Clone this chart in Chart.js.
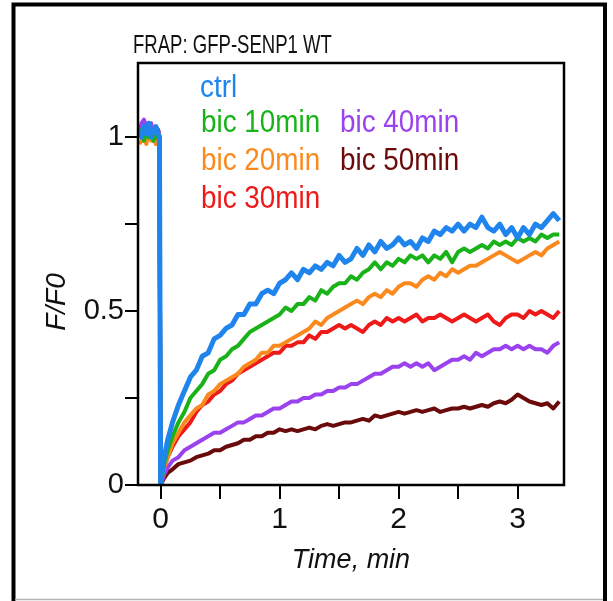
<!DOCTYPE html>
<html>
<head>
<meta charset="utf-8">
<title>FRAP: GFP-SENP1 WT</title>
<script src="https://cdn.jsdelivr.net/npm/chart.js@4.4.1/dist/chart.umd.min.js"></script>
<style>
  html, body { margin: 0; padding: 0; background: #fff; }
  #wrap { width: 613px; height: 601px; }
</style>
</head>
<body>
<div id="wrap"><canvas id="frap" width="613" height="601"></canvas></div>
<script>
// time after bleach, minutes
var timeMin = [
  -0.18, -0.16, -0.14, -0.12, -0.10, -0.08, -0.06, -0.04, -0.02, -0.01,
  0, 0.03, 0.06,
  0.10, 0.15, 0.20, 0.25, 0.30, 0.35, 0.40, 0.45, 0.50, 0.55,
  0.60, 0.65, 0.70, 0.75, 0.80, 0.85, 0.90, 0.95, 1.00, 1.05,
  1.10, 1.15, 1.20, 1.25, 1.30, 1.35, 1.40, 1.45, 1.50, 1.55,
  1.60, 1.65, 1.70, 1.75, 1.80, 1.85, 1.90, 1.95, 2.00, 2.05,
  2.10, 2.15, 2.20, 2.25, 2.30, 2.35, 2.40, 2.45, 2.50, 2.55,
  2.60, 2.65, 2.70, 2.75, 2.80, 2.85, 2.90, 2.95, 3.00, 3.05,
  3.10, 3.15, 3.20, 3.25, 3.30, 3.35
];

// F/F0 per condition
var ctrl = [
  1.02, 1.00, 1.03, 1.01, 1.04, 1.00, 1.02, 1.03, 1.01, 1.00,
  0, 0.08, 0.13,
  0.18, 0.23, 0.27, 0.31, 0.33, 0.37, 0.38, 0.42, 0.43, 0.45,
  0.46, 0.49, 0.49, 0.52, 0.52, 0.55, 0.56, 0.55, 0.58, 0.59,
  0.61, 0.59, 0.62, 0.61, 0.63, 0.62, 0.64, 0.63, 0.66, 0.64,
  0.65, 0.68, 0.66, 0.69, 0.67, 0.70, 0.68, 0.69, 0.71, 0.69,
  0.70, 0.68, 0.71, 0.70, 0.73, 0.72, 0.74, 0.73, 0.75, 0.73,
  0.75, 0.74, 0.77, 0.74, 0.73, 0.75, 0.72, 0.74, 0.71, 0.74,
  0.72, 0.75, 0.74, 0.76, 0.78, 0.76
];
var bic10 = [
  1.00, 1.02, 0.99, 1.01, 1.00, 1.02, 0.99, 1.01, 1.00, 0.99,
  0, 0.06, 0.10,
  0.14, 0.18, 0.21, 0.25, 0.27, 0.29, 0.32, 0.33, 0.36, 0.37,
  0.39, 0.40, 0.42, 0.44, 0.45, 0.46, 0.47, 0.48, 0.49, 0.51,
  0.50, 0.52, 0.52, 0.54, 0.53, 0.56, 0.55, 0.57, 0.58, 0.58,
  0.60, 0.59, 0.61, 0.62, 0.64, 0.62, 0.64, 0.63, 0.65, 0.64,
  0.66, 0.65, 0.66, 0.64, 0.66, 0.65, 0.67, 0.64, 0.67, 0.68,
  0.67, 0.68, 0.69, 0.68, 0.70, 0.69, 0.70, 0.69, 0.71, 0.70,
  0.71, 0.70, 0.72, 0.71, 0.72, 0.72
];
var bic20 = [
  0.98, 0.99, 1.00, 0.98, 1.01, 0.99, 1.00, 0.98, 0.99, 1.00,
  0, 0.05, 0.08,
  0.12, 0.15, 0.18, 0.20, 0.22, 0.23, 0.26, 0.27, 0.29, 0.30,
  0.31, 0.32, 0.34, 0.35, 0.36, 0.38, 0.38, 0.40, 0.40, 0.41,
  0.42, 0.43, 0.44, 0.45, 0.47, 0.46, 0.48, 0.49, 0.50, 0.51,
  0.52, 0.53, 0.52, 0.54, 0.55, 0.54, 0.56, 0.55, 0.57, 0.58,
  0.58, 0.57, 0.59, 0.60, 0.59, 0.61, 0.60, 0.62, 0.61, 0.62,
  0.63, 0.63, 0.64, 0.65, 0.66, 0.67, 0.66, 0.65, 0.64, 0.65,
  0.66, 0.67, 0.66, 0.68, 0.69, 0.70
];
var bic30 = [
  1.00, 1.01, 0.99, 1.02, 1.00, 1.01, 0.99, 1.00, 1.02, 1.00,
  0, 0.05, 0.08,
  0.11, 0.14, 0.16, 0.18, 0.21, 0.23, 0.24, 0.26, 0.27, 0.29,
  0.30, 0.32, 0.33, 0.34, 0.35, 0.36, 0.37, 0.38, 0.38, 0.40,
  0.40, 0.41, 0.41, 0.43, 0.42, 0.44, 0.44, 0.45, 0.46, 0.45,
  0.46, 0.45, 0.44, 0.46, 0.47, 0.46, 0.48, 0.47, 0.48, 0.47,
  0.48, 0.49, 0.47, 0.48, 0.48, 0.49, 0.48, 0.47, 0.48, 0.49,
  0.48, 0.47, 0.48, 0.49, 0.47, 0.46, 0.48, 0.49, 0.49, 0.48,
  0.50, 0.49, 0.50, 0.49, 0.48, 0.50
];
var bic40 = [
  1.01, 1.04, 1.05, 1.03, 1.02, 1.04, 1.01, 1.03, 1.02, 1.00,
  0, 0.03, 0.05,
  0.07, 0.08, 0.10, 0.11, 0.12, 0.13, 0.14, 0.15, 0.15, 0.16,
  0.17, 0.18, 0.18, 0.19, 0.20, 0.20, 0.21, 0.22, 0.22, 0.23,
  0.24, 0.24, 0.25, 0.25, 0.26, 0.26, 0.27, 0.27, 0.28, 0.28,
  0.29, 0.29, 0.30, 0.31, 0.32, 0.32, 0.33, 0.34, 0.34, 0.35,
  0.34, 0.35, 0.34, 0.35, 0.33, 0.34, 0.35, 0.36, 0.36, 0.37,
  0.36, 0.38, 0.37, 0.38, 0.39, 0.39, 0.40, 0.39, 0.40, 0.39,
  0.40, 0.39, 0.39, 0.38, 0.40, 0.41
];
var bic50 = [
  1.00, 1.01, 1.00, 1.02, 1.00, 1.01, 0.99, 1.00, 1.01, 1.00,
  0, 0.02, 0.035,
  0.045, 0.06, 0.065, 0.07, 0.08, 0.085, 0.09, 0.10, 0.10, 0.11,
  0.115, 0.12, 0.13, 0.13, 0.14, 0.14, 0.15, 0.15, 0.16, 0.155,
  0.16, 0.155, 0.16, 0.165, 0.16, 0.17, 0.175, 0.17, 0.175, 0.18,
  0.18, 0.185, 0.19, 0.185, 0.20, 0.195, 0.20, 0.205, 0.21, 0.205,
  0.21, 0.215, 0.21, 0.215, 0.22, 0.21, 0.215, 0.22, 0.22, 0.225,
  0.22, 0.225, 0.23, 0.225, 0.235, 0.24, 0.235, 0.245, 0.26, 0.25,
  0.24, 0.235, 0.23, 0.235, 0.22, 0.24
];

var seriesNames = ['ctrl', 'bic 10min', 'bic 20min', 'bic 30min', 'bic 40min', 'bic 50min'];
var seriesValues = [ctrl, bic10, bic20, bic30, bic40, bic50];
var seriesColors = ['#1f84ec', '#19b319', '#fa8a1e', '#ee1a1a', '#9b42ef', '#6a0a0a'];

var xTickValues = [0, 0.5, 1, 1.5, 2, 2.5, 3];
var xTickLabels = ['0', '', '1', '', '2', '', '3'];
var yTickValues = [0, 0.25, 0.5, 0.75, 1];
var yTickLabels = ['0', '', '0.5', '', '1'];

var FONT = '"Liberation Sans", Arial, sans-serif';

// draws text squeezed horizontally, like a condensed Helvetica
function narrowText(ctx, text, x, y, font, squeeze, color) {
    ctx.save();
    ctx.translate(x, y);
    ctx.scale(squeeze, 1);
    ctx.font = font;
    ctx.fillStyle = color;
    ctx.textAlign = 'left';
    ctx.textBaseline = 'alphabetic';
    ctx.fillText(text, 0, 0);
    ctx.restore();
}

// legend slots: [x, baseline]
var legendSlots = [[200, 97], [201, 132], [201, 170], [201, 208], [340, 132], [340, 170]];

var frapDecor = {
    id: 'frapDecor',
    beforeDraw: function(chart) {
        var ctx = chart.ctx;
        ctx.save();
        ctx.fillStyle = '#fff';
        ctx.fillRect(0, 0, chart.width, chart.height);
        // page frame
        ctx.strokeStyle = '#000';
        ctx.lineWidth = 4;
        ctx.beginPath();
        ctx.moveTo(13.5, 601);
        ctx.lineTo(13.5, 4.5);
        ctx.lineTo(605, 4.5);
        ctx.lineTo(605, 601);
        ctx.stroke();
        ctx.strokeStyle = '#b4b4b4';
        ctx.lineWidth = 1.5;
        ctx.beginPath();
        ctx.moveTo(15, 599.5);
        ctx.lineTo(603, 599.5);
        ctx.stroke();
        ctx.restore();
    },
    afterDatasetsDraw: function(chart) {
        var a = chart.chartArea, ctx = chart.ctx;
        ctx.save();
        ctx.strokeStyle = '#000';
        ctx.lineWidth = 2.5;
        ctx.strokeRect(a.left, a.top, a.right - a.left, a.bottom - a.top);

        narrowText(ctx, 'FRAP: GFP-SENP1 WT', 133, 53, '26.5px ' + FONT, 0.7, '#111');

        chart.data.datasets.forEach(function(ds, i) {
            var s = legendSlots[i];
            narrowText(ctx, ds.label, s[0], s[1], '32px ' + FONT, 0.87, ds.borderColor);
        });

        ctx.translate(57, 302);
        ctx.rotate(-Math.PI / 2);
        ctx.font = 'italic 28px ' + FONT;
        ctx.fillStyle = '#111';
        ctx.textAlign = 'center';
        ctx.textBaseline = 'middle';
        ctx.fillText('F/F0', 0, 0);
        ctx.restore();
    }
};

var datasets = seriesNames.map(function(name, i) {
    return {
        label: name,
        data: timeMin.map(function(t, j) { return { x: t, y: seriesValues[i][j] }; }),
        borderColor: seriesColors[i],
        backgroundColor: seriesColors[i],
        borderWidth: i === 0 ? 5 : 4,
        borderJoinStyle: 'round',
        pointRadius: 0,
        tension: 0,
        fill: false
    };
});

var ctx = document.getElementById('frap').getContext('2d');
var frapChart = new Chart(ctx, {
    type: 'line',
    data: { datasets: datasets },
    options: {
        responsive: false,
        animation: false,
        events: [],
        layout: { padding: { left: 0, top: 63, right: 49, bottom: 0 } },
        plugins: {
            legend: { display: false },
            tooltip: { enabled: false }
        },
        scales: {
            x: {
                type: 'linear',
                min: -0.19,
                max: 3.39,
                afterBuildTicks: function(scale) {
                    scale.ticks = xTickValues.map(function(v) { return { value: v }; });
                },
                afterFit: function(scale) { scale.height = 116; },
                border: { display: false },
                grid: {
                    drawOnChartArea: false,
                    drawTicks: true,
                    tickLength: 14,
                    color: '#000',
                    lineWidth: 2
                },
                ticks: {
                    autoSkip: false,
                    maxRotation: 0,
                    padding: 3,
                    color: '#111',
                    font: { family: FONT, size: 30 },
                    callback: function(value, index) { return xTickLabels[index]; }
                },
                title: {
                    display: true,
                    text: 'Time, min',
                    color: '#111',
                    font: { family: FONT, size: 27, style: 'italic' },
                    padding: { top: 0, bottom: 24 }
                }
            },
            y: {
                type: 'linear',
                min: 0,
                max: 1.213,
                afterBuildTicks: function(scale) {
                    scale.ticks = yTickValues.map(function(v) { return { value: v }; });
                },
                afterFit: function(scale) { scale.width = 138; },
                border: { display: false },
                grid: {
                    drawOnChartArea: false,
                    drawTicks: true,
                    tickLength: 13,
                    color: '#000',
                    lineWidth: 2
                },
                ticks: {
                    autoSkip: false,
                    padding: 1,
                    color: '#111',
                    font: { family: FONT, size: 29 },
                    callback: function(value, index) { return yTickLabels[index]; }
                }
            }
        }
    },
    plugins: [frapDecor]
});
</script>
</body>
</html>
